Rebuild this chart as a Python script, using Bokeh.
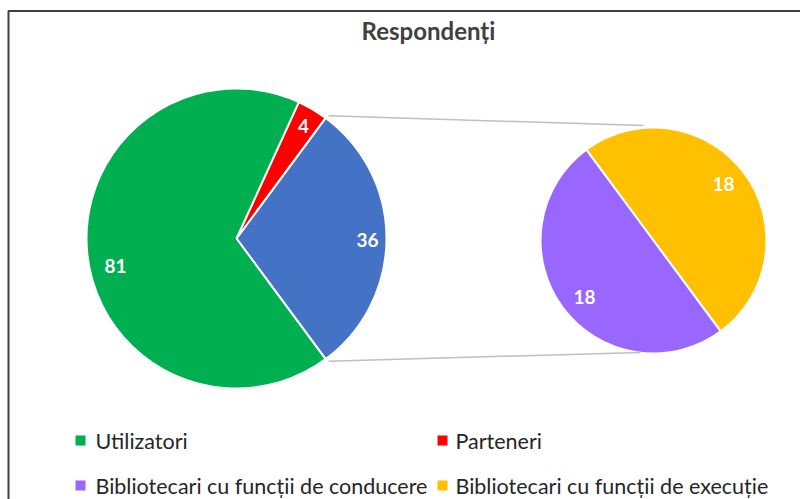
import math
from bokeh.plotting import figure
from bokeh.models import Range1d
from bokeh.core.properties import value
from bokeh.embed import file_html
from bokeh.resources import INLINE

# ---- data ----
title = "Respondenți"
main_labels = ["Utilizatori", "Parteneri"]
main_values = [81, 4]
sub_labels = ["Bibliotecari cu funcții de conducere", "Bibliotecari cu funcții de execuție"]
sub_values = [18, 18]
colors = {
    "Utilizatori": "#00B050",
    "Parteneri": "#FF0000",
    "Other": "#4472C4",
    "Bibliotecari cu funcții de conducere": "#9966FF",
    "Bibliotecari cu funcții de execuție": "#FFC000",
}

W, H = 800, 499
FONT = "Lato"

def px(x):  # page x -> data x
    return x

def py(y):  # page y -> data y
    return H - y

p = figure(width=W, height=H, output_backend="svg", toolbar_location=None,
           x_range=Range1d(0, W), y_range=Range1d(0, H), min_border=0)
p.axis.visible = False
p.grid.visible = False
p.outline_line_color = None
p.background_fill_color = "white"
p.border_fill_color = "white"

# chart area border (top & left visible)
p.line([px(8), px(8), px(W + 5)], [py(H + 5), py(10.5), py(10.5)],
       line_color="#404040", line_width=2)

# ---- main pie ----
cx, cy, R = px(236), py(238), 150
other = sum(sub_values)
total = sum(main_values) + other
other_ang = other / total * 2 * math.pi
start = -other_ang / 2
seg_names = ["Other"] + main_labels[::-1]
seg_vals = [other] + main_values[::-1]
angles = []
a = start
for n, v in zip(seg_names, seg_vals):
    e = a + v / total * 2 * math.pi
    angles.append((a, e))
    p.wedge(x=cx, y=cy, radius=R, start_angle=a, end_angle=e,
            fill_color=colors[n], line_color="white", line_width=2)
    a = e

# ---- secondary pie ----
sx, sy, SR = px(653), py(240), 113
sub_total = sum(sub_values)
s0 = math.radians(-53.5)
a = s0
for n, v in zip(sub_labels[::-1], sub_values[::-1]):
    e = a + v / sub_total * 2 * math.pi
    p.wedge(x=sx, y=sy, radius=SR, start_angle=a, end_angle=e,
            fill_color=colors[n], line_color="white", line_width=2)
    a = e

# connector lines
top_pt = (cx + R * math.cos(angles[0][1]), cy + R * math.sin(angles[0][1]))
bot_pt = (cx + R * math.cos(angles[0][0]), cy + R * math.sin(angles[0][0]))
p.line([top_pt[0] + 3, px(643)], [top_pt[1] + 2, py(125)], line_color="#BFBFBF", line_width=1.5)
p.line([bot_pt[0] + 3, px(640)], [bot_pt[1] - 2, py(352)], line_color="#BFBFBF", line_width=1.5)

# data labels
lab_pos = {"Utilizatori": (115, 265), "Parteneri": (303, 125), "Other": (367, 239)}
for n, v in zip(main_labels + ["Other"], main_values + [other]):
    x, y = lab_pos[n]
    p.text(x=[px(x)], y=[py(y)], text=[str(v)], text_color="white",
           text_font=value(FONT), text_font_style="bold", text_font_size="19px",
           text_align="center", text_baseline="middle")
sub_pos = [(584, 296), (723, 183)]
for (x, y), v in zip(sub_pos, sub_values):
    p.text(x=[px(x)], y=[py(y)], text=[str(v)], text_color="white",
           text_font=value(FONT), text_font_style="bold", text_font_size="19px",
           text_align="center", text_baseline="middle")

# title
p.text(x=[px(428)], y=[py(30)], text=[title], text_color="#404040",
       text_font=value(FONT), text_font_style="bold", text_font_size="24px",
       text_align="center", text_baseline="middle")

# legend
leg_items = main_labels + sub_labels
leg_cols = [(80, 95), (442, 455)]
leg_rows = [440, 485]
for i, name in enumerate(leg_items):
    sxp, txp = leg_cols[i % 2]
    yy = leg_rows[i // 2]
    p.scatter(x=[px(sxp)], y=[py(yy)], marker="square", size=10,
              fill_color=colors[name], line_color=None)
    p.text(x=[px(txp)], y=[py(yy)], text=[name], text_color="#262626",
           text_font=value(FONT), text_font_size="21.5px",
           text_align="left", text_baseline="middle")

open("out.html", "w").write(file_html(p, INLINE))
